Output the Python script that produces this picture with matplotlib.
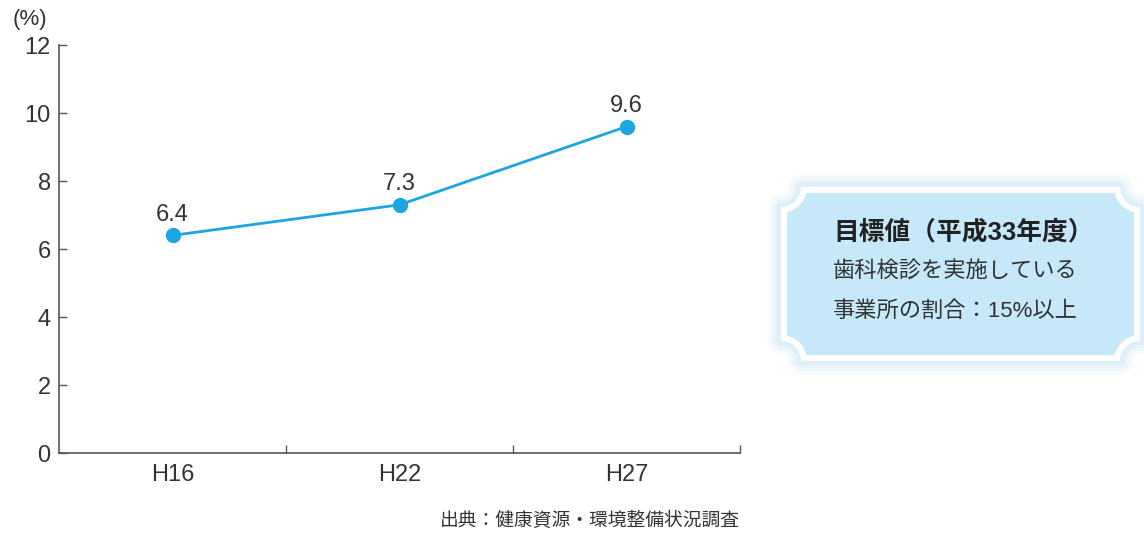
import matplotlib.pyplot as plt
import numpy as np
from matplotlib.path import Path
from matplotlib.patches import PathPatch

plt.rcParams['font.family'] = ['Liberation Sans', 'Noto Sans CJK JP', 'DejaVu Sans']

years = ['H16', 'H22', 'H27']
rates = [6.4, 7.3, 9.6]
yticks = [0, 2, 4, 6, 8, 10, 12]

goal_title = '目標値（平成33年度）'
goal_lines = ['歯科検診を実施している', '事業所の割合：15%以上']
source = '出典：健康資源・環境整備状況調査'

line_col = '#1ba5e1'
text_col = '#333333'
axis_col = '#555555'

W, H = 1144, 534
fig = plt.figure(figsize=(W / 100, H / 100), dpi=100)

# main chart, placed in pixel units
ax = fig.add_axes([59 / W, (H - 453) / H, 681 / W, 408 / H])
x = np.arange(len(years))
ax.plot(x, rates, color=line_col, lw=2, marker='o', ms=10, mfc=line_col, mec=line_col)
for xi, v in zip(x, rates):
    ax.annotate(f'{v:.1f}', (xi, v), xytext=(0, 7), textcoords='offset points',
                ha='center', va='bottom', fontsize=17, color=text_col)

ax.set_xlim(-0.5, 2.5)
ax.set_ylim(0, 12)
ax.set_yticks(yticks)
ax.set_xticks(x)
ax.set_xticklabels(years)
ax.set_xticks([0.5, 1.5, 2.5], minor=True)
ax.tick_params(axis='x', which='major', length=0, pad=8, labelsize=17, labelcolor=text_col)
ax.tick_params(axis='x', which='minor', direction='in', length=6, width=1, color=axis_col)
ax.tick_params(axis='y', direction='in', length=6, width=1, color=axis_col,
               pad=6, labelsize=17, labelcolor=text_col)
for s in ['top', 'right']:
    ax.spines[s].set_visible(False)
for s in ['left', 'bottom']:
    ax.spines[s].set_color(axis_col)
    ax.spines[s].set_linewidth(1.2)

# overlay in pixel coordinates for the free text and the goal box
ov = fig.add_axes([0, 0, 1, 1])
ov.set_xlim(0, W)
ov.set_ylim(H, 0)
ov.axis('off')

ov.text(30, 19, '(%)', ha='center', va='center', fontsize=16, color=text_col)
ov.text(740, 521, source, ha='right', va='center', fontsize=13.5, color=text_col)


def notched_rect(x0, y0, x1, y1, r, d=0, n=24):
    # rectangle with quarter-circle notches centred on its corners,
    # optionally inset by d (notch arcs stay concentric)
    R = r + d
    dl = np.degrees(np.arcsin(d / R))
    pts = []
    corners = [(x0, y0, 90, 0), (x1, y0, 180, 90), (x1, y1, 270, 180), (x0, y1, 360, 270)]
    for cx, cy, a0, a1 in corners:
        t = np.radians(np.linspace(a0 - dl, a1 + dl, n))
        pts += list(zip(cx + R * np.cos(t), cy + R * np.sin(t)))
    pts.append(pts[0])
    codes = [Path.MOVETO] + [Path.LINETO] * (len(pts) - 2) + [Path.CLOSEPOLY]
    return Path(pts, codes)


bx0, by0, bx1, by1 = 781, 187, 1140, 361
outline = notched_rect(bx0, by0, bx1, by1, 20)
# soft blue glow
for w, a in [(20, 0.05), (15, 0.07), (10, 0.09), (6, 0.12)]:
    ov.add_patch(PathPatch(outline, fc='none', ec='#8fd0ef', lw=w, alpha=a,
                           joinstyle='round'))
ov.add_patch(PathPatch(outline, fc='white', ec='none'))
ov.add_patch(PathPatch(notched_rect(bx0, by0, bx1, by1, 20, d=6), fc='#c6e8f8', ec='none'))

ov.text(833, 232, goal_title, ha='left', va='center', fontsize=18.5,
        fontweight='bold', color='#222222')
for i, s in enumerate(goal_lines):
    ov.text(833, 272 + 39 * i, s, ha='left', va='center', fontsize=16, color=text_col)

fig.savefig('out.png', dpi=100)
